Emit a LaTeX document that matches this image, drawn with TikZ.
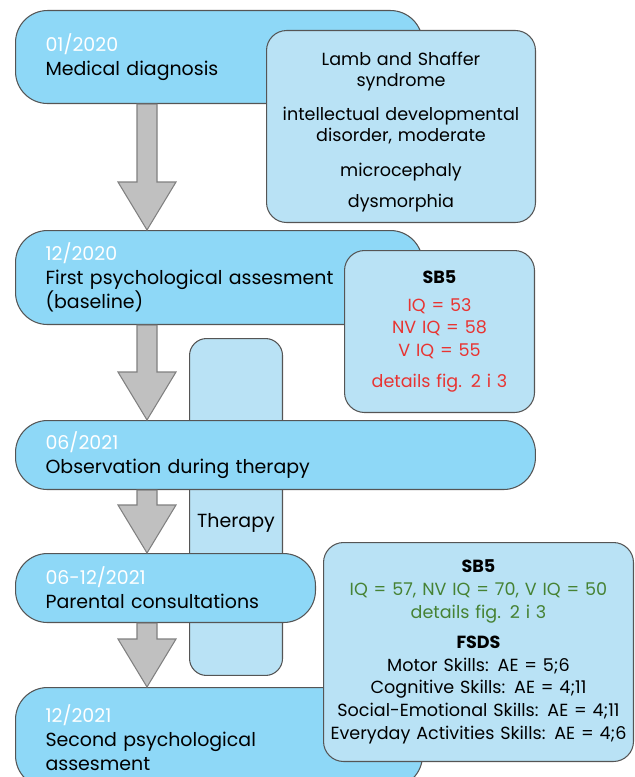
\documentclass[tikz,border=0pt]{standalone}
\usepackage{fontspec}
\setmainfont{Poppins}
\usepackage{tikz}
\usetikzlibrary{positioning,calc}
\usepackage{xcolor}
\definecolor{stagecolor}{RGB}{142,216,247}
\definecolor{notecolor}{RGB}{185,226,245}
\definecolor{arrowgray}{RGB}{192,192,192}
\definecolor{arrowedge}{RGB}{128,128,128}
\definecolor{edgegray}{RGB}{85,85,85}
\definecolor{sbred}{RGB}{232,52,50}
\definecolor{sbgreen}{RGB}{70,130,52}

% thick grey arrow from (#1) down to its tip (#2)
\newcommand{\stagearrow}[2]{%
  \draw[bigarrow] ($(#1)+(-10,0)$) -- ($(#2)+(-10,-48)$) -- ($(#2)+(-29,-48)$)
    -- (#2) -- ($(#2)+(29,-48)$) -- ($(#2)+(10,-48)$) -- ($(#1)+(10,0)$) -- cycle;}

\begin{document}
\begin{tikzpicture}[
    x=0.02cm, y=-0.02cm,
    stage/.style={draw=edgegray, fill=stagecolor, line width=0.6pt, rounded corners=0.64cm,
        anchor=north west, inner xsep=0.6cm, inner ysep=0pt, align=left,
        font=\fontsize{10.8}{13.6}\selectfont},
    note/.style={draw=edgegray, fill=notecolor, line width=0.6pt, rounded corners=0.4cm,
        anchor=north west, inner sep=0pt, align=center,
        font=\fontsize{10}{12.8}\selectfont},
    bigarrow/.style={draw=arrowedge, fill=arrowgray, line width=0.6pt}
]
    \useasboundingbox (0,0) rectangle (635,777);
    \clip (0,0) rectangle (635,777);
    \coordinate (ax) at (147,0);

    % stages and their notes
    \node[stage, minimum width=8.14cm, minimum height=1.86cm, text width=6.94cm] (diag) at (15,10)
        {\textcolor{white}{01/2020}\\Medical diagnosis};
    \node[note, minimum width=5.38cm, minimum height=3.84cm, text width=5.2cm,
        font=\fontsize{10}{12}\selectfont] (diagnote) at (266,30)
        {\rule{0pt}{14pt}Lamb and Shaffer\\syndrome\\[7.5pt] intellectual developmental\\disorder, moderate\\[7.5pt]
         microcephaly\\[6pt] dysmorphia};

    \node[stage, minimum width=8.14cm, minimum height=1.88cm, text width=6.94cm] (first) at (15,230)
        {\textcolor{white}{12/2020}\\First psychological assesment\\(baseline)};
    \node[note, minimum width=3.8cm, minimum height=3.24cm, text width=3.6cm] (firstnote) at (344,250)
        {\textbf{SB5}\\[3pt] {\color{sbred}IQ = 53\\NV IQ = 58\\V IQ = 55\\[5pt] details fig. 2 i 3}};

    \node[note, minimum width=1.86cm, minimum height=6.74cm, rounded corners=0.34cm] (ther) at (189,338) {};
    \node[font=\fontsize{10.8}{13.6}\selectfont] (thertext) at ($(ther.center)+(0,16)$) {Therapy};

    \node[stage, minimum width=10.4cm, minimum height=1.38cm, text width=9.2cm] (obs) at (15,420)
        {\textcolor{white}{06/2021}\\Observation during therapy};
    \node[stage, minimum width=6cm, minimum height=1.38cm, text width=4.8cm] (cons) at (15,553)
        {\textcolor{white}{06-12/2021}\\Parental consultations};
    \node[stage, minimum width=8.14cm, minimum height=2cm, text width=6.94cm] (second) at (15,687)
        {\textcolor{white}{12/2021}\\Second psychological\\assesment};
    \node[note, minimum width=6.2cm, minimum height=4.38cm, text width=6.1cm,
        font=\fontsize{10}{13}\selectfont] (secondnote) at (323,542)
        {\textbf{SB5}\\ {\color{sbgreen}IQ = 57, NV IQ = 70, V IQ = 50\\details fig. 2 i 3}\\[4pt]
         \textbf{FSDS}\\Motor Skills: AE = 5;6\\Cognitive Skills: AE = 4;11\\
         Social-Emotional Skills: AE = 4;11\\Everyday Activities Skills: AE = 4;6};

    % arrows between stages
    \stagearrow{diag.south -| ax}{first.north -| ax}
    \stagearrow{first.south -| ax}{obs.north -| ax}
    \stagearrow{obs.south -| ax}{cons.north -| ax}
    \stagearrow{cons.south -| ax}{second.north -| ax}
\end{tikzpicture}
\end{document}
